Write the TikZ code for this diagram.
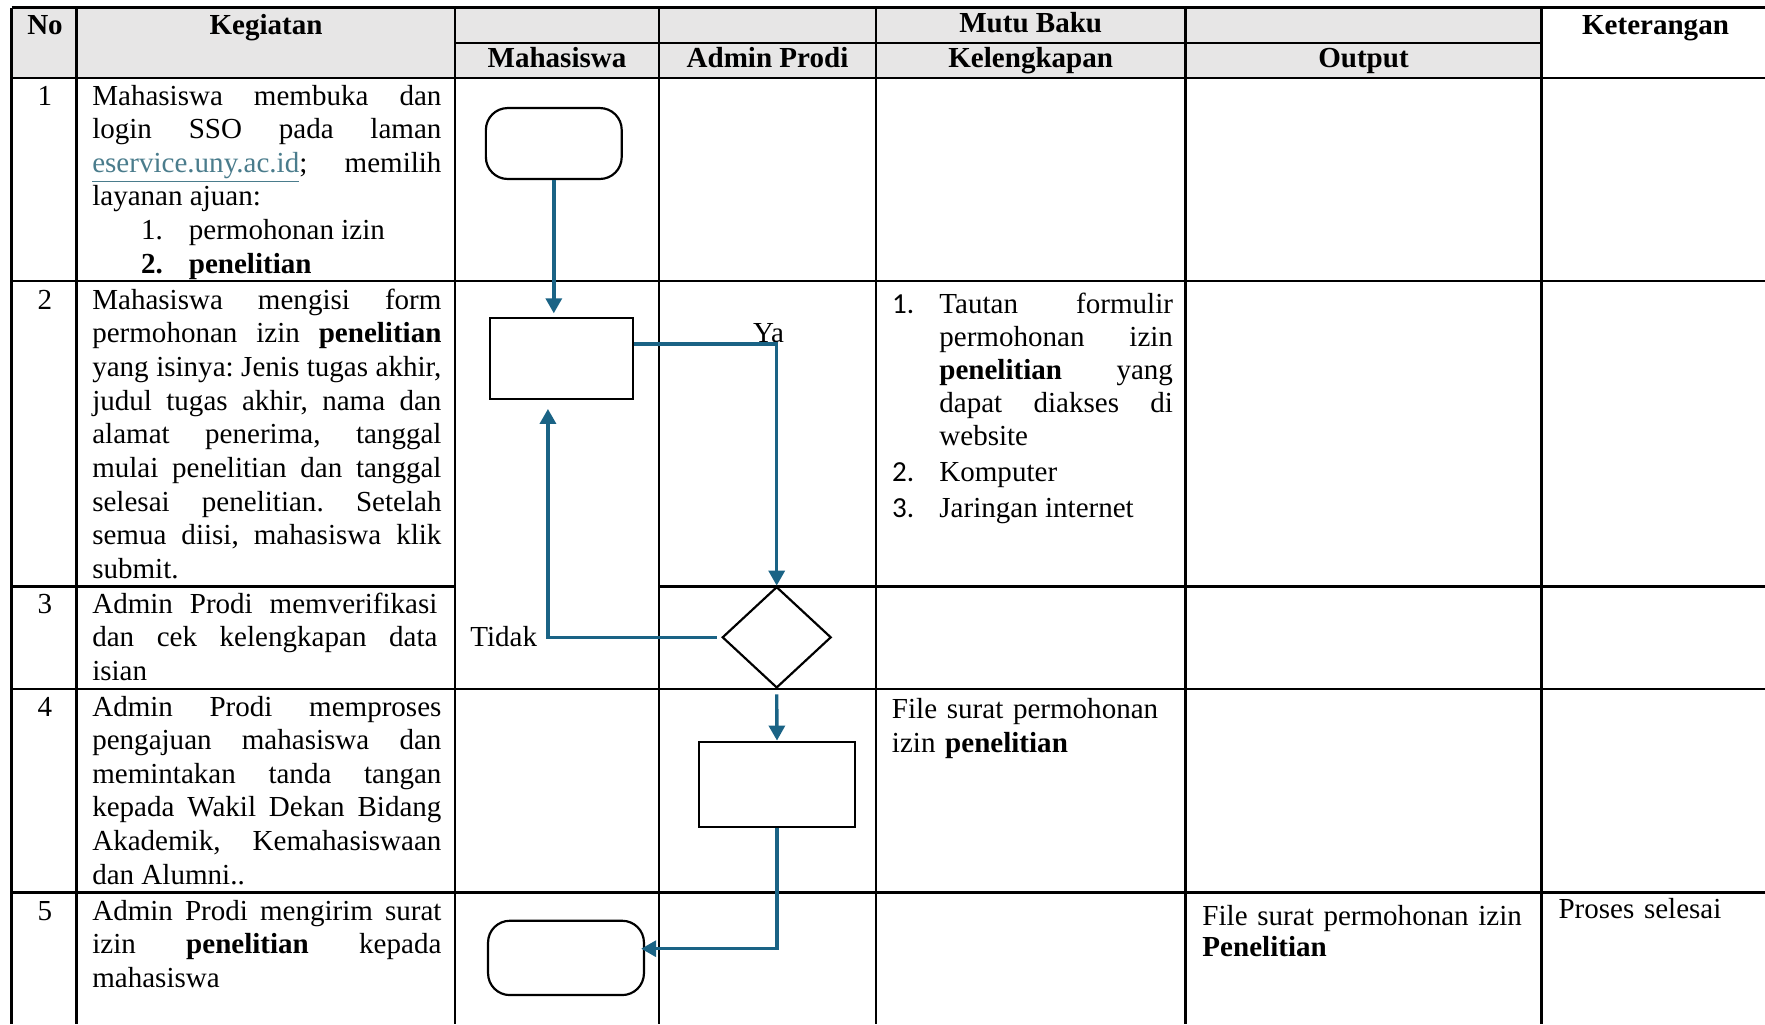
\documentclass[tikz,border=0pt]{standalone}
\usepackage{fontspec}
\setmainfont{Liberation Serif}
\newfontfamily\numfont{Carlito}
\usetikzlibrary{arrows.meta,shapes.geometric}
\definecolor{flowblue}{HTML}{1A6385}
\definecolor{linkteal}{HTML}{4A7C8C}
\definecolor{headgray}{HTML}{E7E6E6}
\tolerance=10000
\hbadness=10000
\hyphenpenalty=10000
\exhyphenpenalty=10000
\newcommand\jst{\leftskip=0pt\rightskip=0pt\parfillskip=0pt plus 1fil\frenchspacing
  \spaceskip=\fontdimen2\font plus 1\fontdimen2\font minus 0.33\fontdimen2\font\relax}

\begin{document}
\begin{tikzpicture}[x=0.4131pt,y=-0.4131pt,
                    tabline/.style={line width=0.85pt},
                    head/.style={anchor=base, inner sep=0pt, font=\fontsize{12}{13.9}\selectfont\bfseries},
                    num/.style={anchor=base, inner sep=0pt, font=\fontsize{12}{13.9}\selectfont},
                    cell/.style={anchor=base west, inner sep=0pt, text width=144.25pt, font=\fontsize{12}{13.9}\selectfont},
                    terminal/.style={draw, line width=0.9pt, rounded corners=9pt, minimum width=56.1pt, minimum height=29.3pt, inner sep=0pt},
                    process/.style={draw, line width=0.9pt, rectangle, inner sep=0pt},
                    decision/.style={draw, line width=0.9pt, diamond, minimum width=45pt, minimum height=41.8pt, inner sep=0pt},
                    flow/.style={draw=flowblue, line width=1.4pt, -{Triangle[width=6.6pt,length=6.2pt]}},
                    lbl/.style={anchor=base, inner sep=0pt, font=\fontsize{12}{13.9}\selectfont}
                    ]
                    \useasboundingbox (0,0) rectangle (1765,1024);

                    % table
                    \fill[headgray] (11.5,7.5) rectangle (1541.5,77.7);
                    \foreach \x in {11.5,76.5,455,659,876,1185.5,1541.5}{
                        \draw[tabline] (\x,7.5) -- (\x,1024);
                    }
                    \foreach \y in {7.5,77.7,281,689,892.5}{
                        \draw[tabline] (11.5,\y) -- (1765,\y);
                    }
                    \draw[tabline] (455,42.7) -- (1541.5,42.7);
                    \draw[tabline] (11.5,586.5) -- (455,586.5);
                    \draw[tabline] (659,586.5) -- (1765,586.5);

                    \node[head] (hno) at (45,34.3) {No};
                    \node[head] (hkeg) at (266,34.3) {Kegiatan};
                    \node[head] (hmhs) at (557,67.5) {Mahasiswa};
                    \node[head] (hadm) at (767.5,67.5) {Admin Prodi};
                    \node[head] (hmutu) at (1030.7,32.3) {Mutu Baku};
                    \node[head] (hkel) at (1030.7,67) {Kelengkapan};
                    \node[head] (hout) at (1363.5,67) {Output};
                    \node[head] (hket) at (1655.5,34.3) {Keterangan};

                    \foreach \n/\y in {1/105,2/309.3,3/613.3,4/716,5/920}{
                        \node[num] (no\n) at (45,\y) {\n};
                    }

                    \node[cell] (keg1) at (91.8,105) {\jst Mahasiswa membuka dan\linebreak login SSO pada laman\linebreak \textcolor{linkteal}{\underline{eservice.uny.ac.id}}; memilih\linebreak layanan ajuan:\par
                        \hspace*{20.2pt}\makebox[19.7pt][l]{1.}permohonan izin\par
                        \hspace*{20.2pt}\makebox[19.7pt][l]{\textbf{2.}}\textbf{penelitian}\par};
                    \node[cell] (keg2) at (91.8,309.3) {\jst Mahasiswa mengisi form\linebreak permohonan izin \textbf{penelitian}\linebreak yang isinya: Jenis tugas akhir,\linebreak judul tugas akhir, nama dan\linebreak alamat penerima, tanggal\linebreak mulai penelitian dan tanggal\linebreak selesai penelitian. Setelah\linebreak semua diisi, mahasiswa klik\linebreak submit.\par};
                    \node[cell, text width=142.6pt] (keg3) at (91.8,613.3) {\jst Admin Prodi memverifikasi\linebreak dan cek kelengkapan data\linebreak isian\par};
                    \node[cell] (keg4) at (91.8,716) {\jst Admin Prodi memproses\linebreak pengajuan mahasiswa dan\linebreak memintakan tanda tangan\linebreak kepada Wakil Dekan Bidang\linebreak Akademik, Kemahasiswaan\linebreak dan Alumni..\par};
                    \node[cell] (keg5) at (91.8,920) {\jst Admin Prodi mengirim surat\linebreak izin \textbf{penelitian} kepada\linebreak mahasiswa\par};

                    \node[cell, text width=116pt, font=\fontsize{12}{13.6}\selectfont] (kel2) at (891.7,313.3) {\jst\setlength{\parskip}{1.4pt}%
                        \hangindent=19.5pt\hangafter=1\makebox[19.5pt][l]{\numfont 1.}Tautan formulir\linebreak permohonan izin\linebreak \textbf{penelitian} yang\linebreak dapat diakses di\linebreak website\par
                        \makebox[19.5pt][l]{\numfont 2.}Komputer\par
                        \makebox[19.5pt][l]{\numfont 3.}Jaringan internet\par};
                    \node[cell, text width=130pt, font=\fontsize{12}{14.3}\selectfont] (kel4) at (891.5,718.3) {File surat permohonan\\izin \textbf{penelitian}};
                    \node[cell, text width=140pt, font=\fontsize{12}{13.1}\selectfont] (out5) at (1202,925) {File surat permohonan izin\\\textbf{Penelitian}};
                    \node[cell, text width=80pt] (ket5) at (1558,918.3) {Proses selesai};

                    % flow
                    \node[terminal] (start) at (553.8,143.5) {};
                    \node[process, minimum width=59.2pt, minimum height=33.5pt] (proc1) at (561.5,358.8) {};
                    \node[decision] (dec) at (776.7,637.3) {};
                    \node[process, minimum width=64.7pt, minimum height=35.4pt] (proc2) at (777,784.5) {};
                    \node[terminal, minimum width=64.4pt, minimum height=30.7pt] (finish) at (566,957.9) {};

                    \node[lbl] (ya) at (768.5,342) {Ya};
                    \node[lbl] (tidak) at (503.7,646.5) {Tidak};

                    \draw[flow, shorten >=1.6pt] (start) -- (start |- proc1.north);
                    \draw[flow] ([yshift=6.1pt]proc1.east) -| (dec.north);
                    \draw[flow] ([xshift=-1.8pt]dec.west) -| ([xshift=-5.6pt,yshift=-3.5pt]proc1.south);
                    \draw[flow] ([yshift=-2.2pt]dec.south) -- (proc2.north);
                    \draw[flow] (proc2.south) |- ([xshift=-1.6pt,yshift=3.8pt]finish.east);
                \end{tikzpicture}
\end{document}
